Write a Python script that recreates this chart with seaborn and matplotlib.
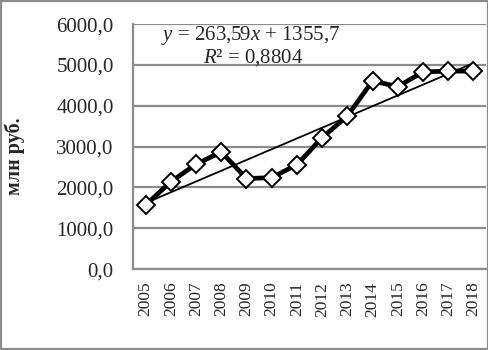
import numpy as np
import pandas as pd
import seaborn as sns
import matplotlib.pyplot as plt
from matplotlib.patches import Rectangle

years = ["2005", "2006", "2007", "2008", "2009", "2010", "2011",
         "2012", "2013", "2014", "2015", "2016", "2017", "2018"]
values = [1570, 2140, 2570, 2870, 2220, 2240, 2560,
          3220, 3750, 4610, 4470, 4830, 4850, 4850]
slope, intercept = 263.59, 1355.7

df = pd.DataFrame({"idx": np.arange(len(years)), "val": values})

sns.set_style("white")
plt.rcParams['font.family'] = ['Liberation Serif', 'DejaVu Serif']
plt.rcParams['mathtext.fontset'] = 'custom'
plt.rcParams['mathtext.rm'] = 'Liberation Serif'
plt.rcParams['mathtext.it'] = 'Liberation Serif:italic'

fig = plt.figure(figsize=(4.89, 3.5), dpi=100)
ax = fig.add_axes([0.272, 0.231, 0.722, 0.70])

# trend line from the equation shown on the chart
tx = np.array([0, len(years) - 1])
trend = slope * (tx + 1) + intercept
sns.lineplot(x=tx, y=trend, ax=ax, color="black", lw=1.3, zorder=3)

sns.lineplot(data=df, x="idx", y="val", ax=ax, color="black", lw=3.4,
             marker="D", markersize=9, markerfacecolor="white",
             markeredgecolor="black", markeredgewidth=1.4, zorder=4)

ax.set_xlim(-0.5, len(years) - 0.5)
ax.set_ylim(0, 6000)
ax.set_yticks(np.arange(0, 6001, 1000))
ax.set_yticklabels([f"{v},0" for v in range(0, 6001, 1000)], fontsize=15)
ax.set_xticks(np.arange(len(years)))
ax.set_xticklabels(years, rotation=90, fontsize=12.5)
ax.tick_params(axis='y', length=0, pad=14)
ax.tick_params(axis='x', length=0, pad=9)
ax.set_xlabel("")
ax.set_ylabel("млн руб.", fontsize=14.5, fontweight="bold")
ax.yaxis.set_label_coords(-0.306, 0.46)

ax.grid(axis='y', color='#8c8c8c', lw=1.6)
ax.set_axisbelow(True)
for s in ["top", "right"]:
    ax.spines[s].set_visible(False)
for s in ["left", "bottom"]:
    ax.spines[s].set_color('#8c8c8c')
    ax.spines[s].set_linewidth(1.6)

ax.text(0.08, 0.955, "$y$ = 263,59$x$ + 1355,7", transform=ax.transAxes,
        fontsize=15, va="center", ha="left")
ax.text(0.198, 0.862, "$R$² = 0,8804", transform=ax.transAxes,
        fontsize=15, va="center", ha="left")

fig.patches.append(Rectangle((0.003, 0.004), 0.994, 0.992, transform=fig.transFigure,
                             fill=False, edgecolor='#8c8c8c', lw=1.6))

fig.savefig("out.png", dpi=100)
